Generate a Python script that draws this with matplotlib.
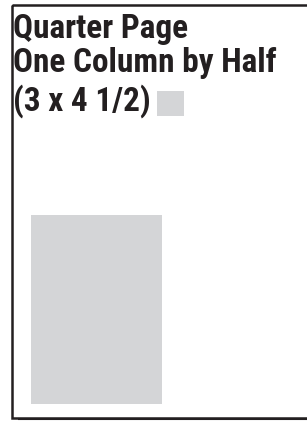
import matplotlib
matplotlib.use("Agg")
import matplotlib.pyplot as plt
from matplotlib.patches import Rectangle
from matplotlib import font_manager

# Content
title_lines = ["Quarter Page", "One Column by Half", "(3 x 4 1/2)"]
# Page frame (in pixel-like units on a 307x423 canvas)
frame = (12, 5, 310, 418)      # x0, y0, x1, y1
ad_block = (31, 215, 162, 404)  # gray block showing the ad area
swatch = (157, 91, 184, 116)    # small gray swatch after the size text

gray = "#d4d5d7"
ink = "#231f20"

W, H = 307, 423
fig = plt.figure(figsize=(W / 100, H / 100), dpi=100)
ax = fig.add_axes([0, 0, 1, 1])
ax.set_xlim(0, W)
ax.set_ylim(H, 0)
ax.axis("off")

names = {f.name for f in font_manager.fontManager.ttflist}
fam, stretch = "DejaVu Sans", "condensed"
for cand in ["Liberation Sans Narrow", "Roboto Condensed", "Archivo Narrow", "Barlow Condensed"]:
    if cand in names:
        fam, stretch = cand, "normal" if cand != "Archivo Narrow" else "condensed"
        break

# shadow + frame
x0, y0, x1, y1 = frame
ax.plot([x0 + 6, x1 + 6], [y1 + 1.5, y1 + 1.5], color=ink, lw=1.5, solid_capstyle="butt")
ax.add_patch(Rectangle((x0, y0), x1 - x0, y1 - y0, fill=False, edgecolor=ink, lw=1.8))

ax.add_patch(Rectangle((ad_block[0], ad_block[1]), ad_block[2] - ad_block[0],
                       ad_block[3] - ad_block[1], facecolor=gray, edgecolor="none"))
ax.add_patch(Rectangle((swatch[0], swatch[1]), swatch[2] - swatch[0],
                       swatch[3] - swatch[1], facecolor=gray, edgecolor="none"))

baselines = [38, 72, 111]
texts = []
for txt, yb in zip(title_lines, baselines):
    texts.append(ax.text(13, yb, txt, fontsize=21.5, fontweight="bold", family=fam,
                         fontstretch=stretch, color=ink, ha="left", va="baseline"))

# fit the widest line to the reference width (~264 px)
fig.canvas.draw()
r = fig.canvas.get_renderer()
w = texts[1].get_window_extent(r).width
fs = 21.5 * 264.0 / w
for t in texts:
    t.set_fontsize(fs)

fig.savefig("out.png", dpi=100)
